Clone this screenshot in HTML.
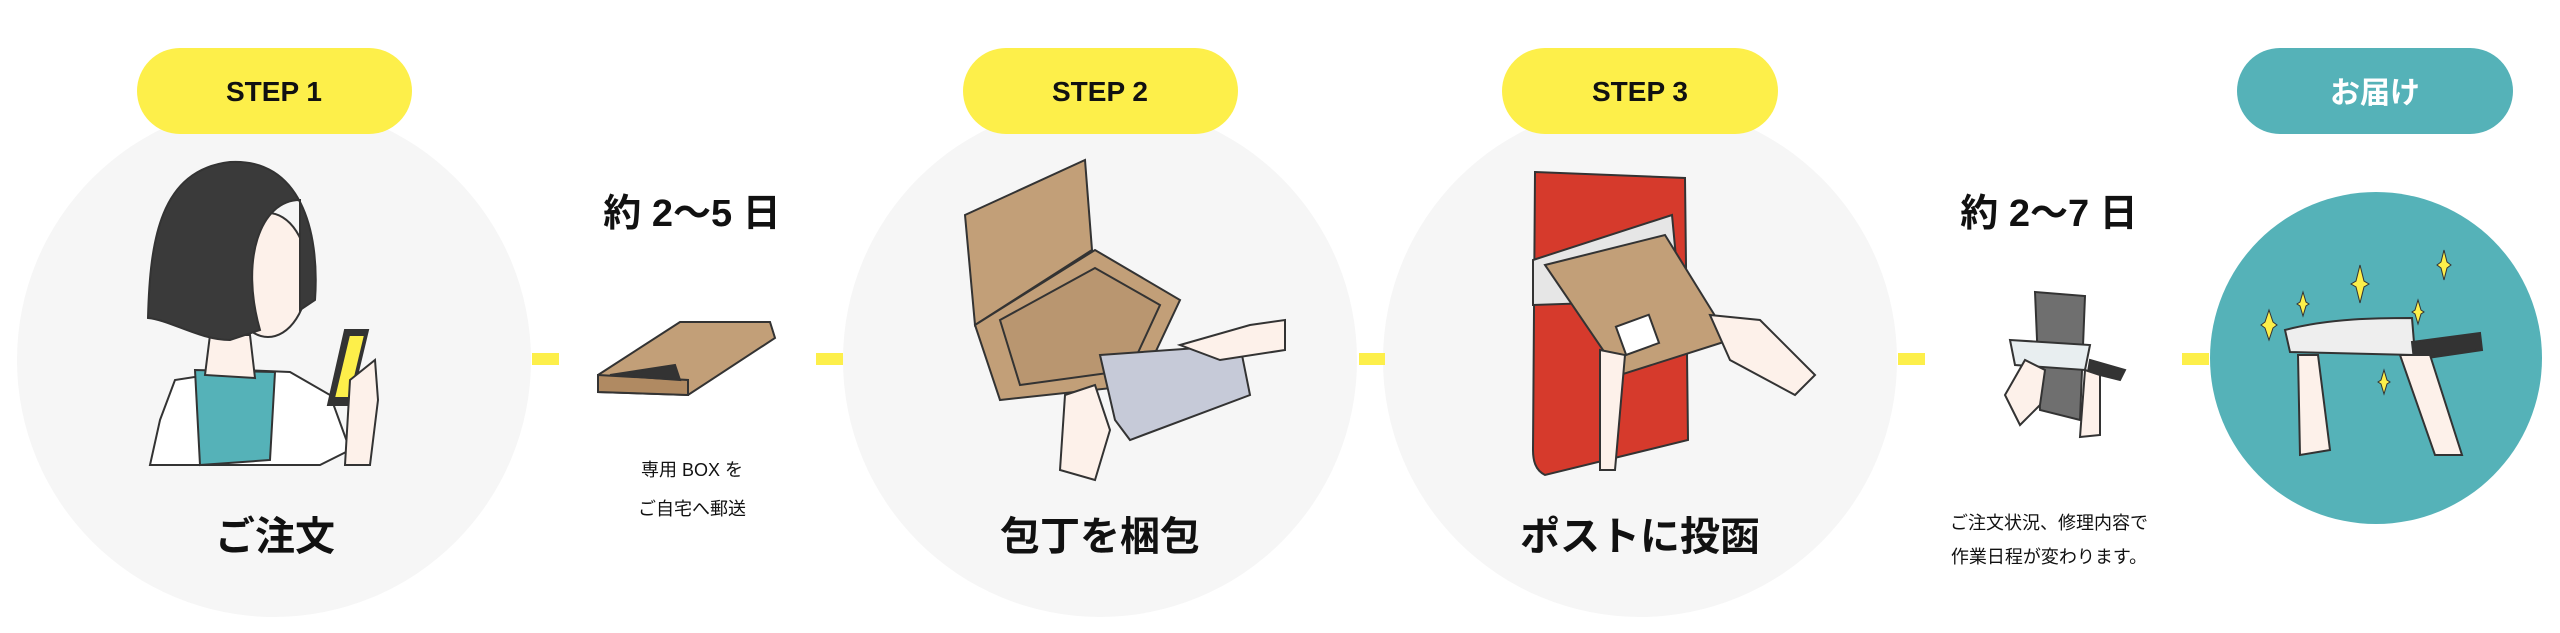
<!DOCTYPE html>
<html><head><meta charset="utf-8"><style>
html,body{margin:0;padding:0;background:#fff;width:2560px;height:633px;overflow:hidden}
svg{display:block}
text{font-family:"Liberation Sans","Noto Sans CJK JP",sans-serif;font-weight:bold;fill:#111;text-anchor:middle}
</style></head><body>
<svg width="2560" height="633" viewBox="0 0 2560 633" xmlns="http://www.w3.org/2000/svg">
<!-- circles -->
<circle cx="274" cy="360" r="257" fill="#f6f6f6"/>
<circle cx="1100" cy="360" r="257" fill="#f6f6f6"/>
<circle cx="1640" cy="360" r="257" fill="#f6f6f6"/>
<circle cx="2376" cy="358" r="166" fill="#55b2b8"/>
<!-- connectors -->
<g fill="#fdef4a">
<rect x="532" y="353" width="27" height="12"/><rect x="816" y="353" width="27" height="12"/>
<rect x="1359" y="353" width="26" height="12"/><rect x="1898" y="353" width="27" height="12"/>
<rect x="2182" y="353" width="27" height="12"/>
</g>
<!-- pills -->
<rect x="137" y="48" width="275" height="86" rx="43" fill="#fdef4a"/>
<rect x="963" y="48" width="275" height="86" rx="43" fill="#fdef4a"/>
<rect x="1502" y="48" width="276" height="86" rx="43" fill="#fdef4a"/>
<rect x="2237" y="48" width="276" height="86" rx="43" fill="#55b2b8"/>
<text x="274" y="101" font-size="28">STEP 1</text>
<text x="1100" y="101" font-size="28">STEP 2</text>
<text x="1640" y="101" font-size="28">STEP 3</text>
<text x="2375" y="103" font-size="30" style="fill:#fff">お届け</text>
<!-- STEP1 illustration -->
<g stroke="#333" stroke-width="2">
<path d="M160 420 L175 380 L240 370 L290 372 L330 395 L350 450 L320 465 L150 465 Z" fill="#fff"/>
<path d="M195 370 L275 372 L270 460 L200 465 Z" fill="#55b2b8"/>
<path d="M210 335 L205 375 L255 378 L250 335 Z" fill="#fdf1ea"/>
<ellipse cx="268" cy="275" rx="40" ry="62" fill="#fdf1ea"/>
<path d="M148 318 C150 240 160 170 230 162 C300 158 320 230 315 300 L300 310 L300 200 C260 200 240 260 260 330 L230 340 C200 340 170 320 148 318 Z" fill="#3a3a3a"/>
<path d="M345 330 L368 330 L350 405 L328 405 Z" fill="#333"/>
<path d="M349 335 L365 335 L350 398 L334 398 Z" fill="#fdef4a"/>
<path d="M350 380 L375 360 L378 400 L370 465 L345 465 Z" fill="#fdf1ea"/>
</g>
<text x="275" y="550" font-size="40">ご注文</text>
<!-- 約2〜5日 -->
<text x="692" y="226" font-size="38">約 2〜5 日</text>
<g stroke="#333" stroke-width="2">
<path d="M598 375 L680 322 L770 322 L775 338 L688 395 L598 392 Z" fill="#c29f78"/>
<path d="M598 375 L688 380 L688 395 L598 392 Z" fill="#b08a62"/>
<path d="M610 375 L675 365 L680 380 Z" fill="#333"/>
</g>
<text x="692" y="476" font-size="18" style="font-weight:normal">専用 BOX を</text>
<text x="692" y="515" font-size="18" style="font-weight:normal">ご自宅へ郵送</text>
<!-- STEP2 illustration -->
<g stroke="#333" stroke-width="2">
<path d="M965 215 L1085 160 L1092 250 L975 325 Z" fill="#c29f78"/>
<path d="M975 325 L1095 250 L1180 300 L1140 385 L1000 400 Z" fill="#c29f78"/>
<path d="M1000 320 L1095 268 L1160 305 L1130 370 L1020 385 Z" fill="#b99670"/>
<path d="M1100 355 L1240 345 L1250 395 L1130 440 L1115 420 Z" fill="#c6cad8"/>
<path d="M1065 395 L1095 385 L1110 430 L1095 480 L1060 470 Z" fill="#fdf1ea"/>
<path d="M1180 345 L1250 325 L1285 320 L1285 350 L1220 360 Z" fill="#fdf1ea"/>
</g>
<text x="1100" y="550" font-size="40">包丁を梱包</text>
<!-- STEP3 illustration -->
<g stroke="#333" stroke-width="2">
<path d="M1535 172 L1685 178 L1688 440 L1545 475 C1535 470 1533 460 1533 450 Z" fill="#d63a2c"/>
<path d="M1533 260 L1672 215 L1680 300 L1533 305 Z" fill="#e6e6e6"/>
<path d="M1545 265 L1665 235 L1730 340 L1620 375 Z" fill="#c29f78"/>
<rect x="1620" y="320" width="35" height="30" fill="#fff" transform="rotate(-20 1637 335)"/>
<path d="M1600 350 L1625 355 L1615 470 L1600 470 Z" fill="#fdf1ea"/>
<path d="M1710 315 L1760 320 L1815 375 L1795 395 L1730 360 Z" fill="#fdf1ea"/>
</g>
<text x="1640" y="550" font-size="40">ポストに投函</text>
<!-- 約2〜7日 -->
<text x="2049" y="226" font-size="38">約 2〜7 日</text>
<g stroke="#333" stroke-width="2">
<path d="M2035 292 L2085 296 L2080 420 L2040 410 Z" fill="#6f6f6f"/>
<path d="M2010 340 L2090 345 L2085 370 L2015 365 Z" fill="#e8eef0"/>
<path d="M2090 360 L2125 370 L2120 380 L2088 372 Z" fill="#333"/>
<path d="M2005 395 L2025 360 L2045 370 L2040 405 L2020 425 Z" fill="#fdf1ea"/>
<path d="M2085 370 L2100 375 L2100 435 L2080 437 Z" fill="#fdf1ea"/>
</g>
<text x="2049" y="529" font-size="18" style="font-weight:normal">ご注文状況、修理内容で</text>
<text x="2049" y="563" font-size="18" style="font-weight:normal">作業日程が変わります。</text>
<!-- teal illustration -->
<g stroke="#333" stroke-width="2">
<path d="M2285 330 C2330 318 2380 318 2412 318 L2415 355 L2290 352 Z" fill="#eee"/>
<path d="M2412 342 L2480 333 L2482 350 L2414 360 Z" fill="#333"/>
<path d="M2298 355 L2318 355 L2330 450 L2300 455 Z" fill="#fdf1ea"/>
<path d="M2400 355 L2430 355 L2462 455 L2435 455 Z" fill="#fdf1ea"/>
</g>
<g fill="#fdef4a" stroke="#333" stroke-width="1">
<path d="M2360 265 l4 16 l5 3 l-5 3 l-4 16 l-4 -16 l-5 -3 l5 -3 Z"/>
<path d="M2444 250 l3 12 l4 3 l-4 3 l-3 12 l-3 -12 l-4 -3 l4 -3 Z"/>
<path d="M2303 292 l3 10 l3 2 l-3 2 l-3 10 l-3 -10 l-3 -2 l3 -2 Z"/>
<path d="M2269 310 l4 12 l4 3 l-4 3 l-4 12 l-4 -12 l-4 -3 l4 -3 Z"/>
<path d="M2418 300 l3 10 l3 2 l-3 2 l-3 10 l-3 -10 l-3 -2 l3 -2 Z"/>
<path d="M2384 370 l3 10 l3 2 l-3 2 l-3 10 l-3 -10 l-3 -2 l3 -2 Z"/>
</g>
</svg>
</body></html>
